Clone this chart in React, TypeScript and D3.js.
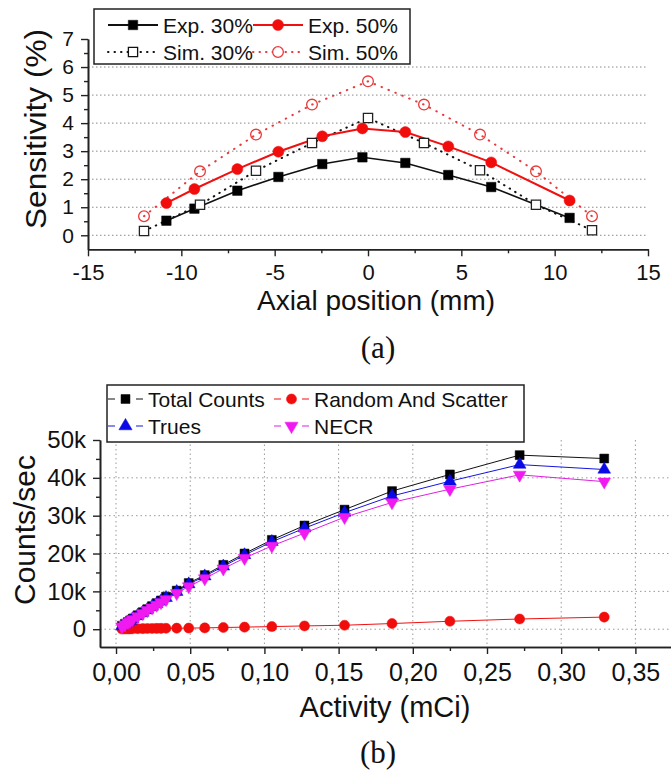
import React, { useEffect, useRef } from "react";
import * as d3 from "d3";

const W = 671;
const H = 773;
const SANS = "'Liberation Sans', Arial, sans-serif";
const SERIF = "'Liberation Serif', 'Times New Roman', serif";

// ---- (a) sensitivity vs axial position ----
const expPos = [-10.8, -9.3, -7.0, -4.8, -2.45, -0.3, 2.0, 4.3, 6.6, 10.8];
const exp30 = [0.52, 0.95, 1.59, 2.08, 2.54, 2.78, 2.58, 2.15, 1.72, 0.62];
const exp50 = [1.15, 1.65, 2.36, 2.98, 3.53, 3.81, 3.68, 3.17, 2.6, 1.24];
const simPos = [-12, -9, -6, -3, 0, 3, 6, 9, 12];
const sim30 = [0.15, 1.09, 2.3, 3.29, 4.18, 3.29, 2.32, 1.09, 0.18];
const sim50 = [0.68, 2.28, 3.59, 4.66, 5.49, 4.66, 3.59, 2.28, 0.68];
const xTicksA = [-15, -10, -5, 0, 5, 10, 15];
const yTicksA = [0, 1, 2, 3, 4, 5, 6, 7];
const gridA = [0, 1, 2, 3, 4, 5, 6];

// ---- (b) count rates vs activity ----
const activity = [0.004, 0.006, 0.008, 0.0095, 0.0112, 0.0146, 0.018, 0.0211, 0.0243, 0.0274, 0.0303, 0.0337,
  0.0409, 0.049, 0.0598, 0.0723, 0.0866, 0.105, 0.127, 0.154, 0.186, 0.225, 0.272, 0.329];
const totalCounts = [900, 1400, 1900, 2300, 2800, 3700, 4500, 5300, 6100, 6900, 7600, 8600,
  10200, 12200, 14300, 17000, 20000, 23600, 27400, 31600, 36500, 40900, 46000, 45100];
const randomScatter = [50, 70, 90, 100, 120, 140, 160, 180, 200, 210, 230, 250,
  280, 300, 350, 450, 550, 700, 870, 1050, 1500, 2100, 2700, 3200];
const trues = [800, 1300, 1800, 2200, 2700, 3600, 4400, 5200, 6000, 6700, 7400, 8300,
  9900, 11900, 14000, 16600, 19600, 23100, 26700, 30800, 35200, 39100, 43500, 42200];
const necr = [700, 1200, 1700, 2100, 2600, 3400, 4200, 5000, 5700, 6400, 7100, 7900,
  9500, 11300, 13400, 16000, 18800, 22000, 25400, 29600, 33500, 37000, 40800, 39000];
const xTicksB = [0, 0.05, 0.1, 0.15, 0.2, 0.25, 0.3, 0.35];
const yTicksB = [0, 10000, 20000, 30000, 40000, 50000];
const gridYB = [0, 10000, 20000, 30000, 40000];

type Sel = d3.Selection<SVGGElement, unknown, null, undefined>;

function markers(g: Sel, xs: number[], ys: number[], sx: any, sy: any, type: any, size: number,
  fill: string, stroke: string, sw: number, rot = 0) {
  const sym = d3.symbol().type(type).size(size);
  g.append("g")
    .selectAll("path")
    .data(xs.map((d, i) => [d, ys[i]]))
    .enter()
    .append("path")
    .attr("d", sym as any)
    .attr("transform", d => `translate(${sx(d[0])},${sy(d[1])}) rotate(${rot})`)
    .attr("fill", fill)
    .attr("stroke", stroke)
    .attr("stroke-width", sw);
}

function series(g: Sel, xs: number[], ys: number[], sx: any, sy: any, color: string, width: number, dash?: string) {
  const line = d3.line<number[]>().x(d => sx(d[0])).y(d => sy(d[1]));
  g.append("path")
    .datum(xs.map((d, i) => [d, ys[i]]))
    .attr("d", line)
    .attr("fill", "none")
    .attr("stroke", color)
    .attr("stroke-width", width)
    .attr("stroke-linecap", dash ? "round" : "butt")
    .attr("stroke-dasharray", dash || null);
}

function styleAxis(g: Sel, size: number) {
  g.select(".domain").attr("stroke", "#222").attr("stroke-width", 1.6);
  g.selectAll(".tick line").attr("stroke", "#222").attr("stroke-width", 1.4);
  g.selectAll(".tick text").attr("font-family", SANS).attr("font-size", size).attr("fill", "#111");
}

// minor ticks: lines only, no labels
function minorAxis(g: Sel) {
  g.select(".domain").attr("stroke", "#222").attr("stroke-width", 1.6);
  g.selectAll(".tick line").attr("stroke", "#222").attr("stroke-width", 1.4);
  g.selectAll(".tick text").remove();
}

export default function App() {
  const ref = useRef<SVGSVGElement>(null);

  useEffect(() => {
    const svg = d3.select(ref.current);
    svg.selectAll("*").remove();
    const root = svg.append("g") as unknown as Sel;

    // ================= (a) =================
    const xA = d3.scaleLinear().domain([-15, 15]).range([88, 648]);
    const yA = d3.scaleLinear().domain([-0.5, 7]).range([249.3, 39]);

    const gA = root.append("g");
    gA.append("g").selectAll("line").data(gridA).enter().append("line")
      .attr("x1", xA(-15)).attr("x2", xA(15))
      .attr("y1", d => yA(d)).attr("y2", d => yA(d))
      .attr("stroke", "#8a8a8a").attr("stroke-width", 1).attr("stroke-dasharray", "1.5,2.5");

    const minorXA = d3.range(-12.5, 15, 5);
    const minorYA = d3.range(0.5, 7, 1);
    gA.append("g").attr("transform", `translate(0,${yA(-0.5)})`)
      .call(d3.axisBottom(xA).tickValues(minorXA).tickSize(4).tickSizeOuter(0))
      .call(g => minorAxis(g as any));
    gA.append("g").attr("transform", `translate(${xA(-15)},0)`)
      .call(d3.axisLeft(yA).tickValues(minorYA).tickSize(4).tickSizeOuter(0))
      .call(g => minorAxis(g as any));
    gA.append("g").attr("transform", `translate(0,${yA(-0.5)})`)
      .call(d3.axisBottom(xA).tickValues(xTicksA).tickSize(7).tickPadding(8).tickSizeOuter(0).tickFormat(d => String(d)))
      .call(g => styleAxis(g as any, 22));
    gA.append("g").attr("transform", `translate(${xA(-15)},0)`)
      .call(d3.axisLeft(yA).tickValues(yTicksA).tickSize(7).tickPadding(7).tickSizeOuter(0).tickFormat(d => String(d)))
      .call(g => styleAxis(g as any, 21));

    series(gA as any, simPos, sim30, xA, yA, "#111", 2, "0.5,6");
    series(gA as any, simPos, sim50, xA, yA, "#e8393c", 2, "0.5,7");
    series(gA as any, expPos, exp30, xA, yA, "#111", 1.6);
    series(gA as any, expPos, exp50, xA, yA, "#f01010", 2);
    markers(gA as any, expPos, exp30, xA, yA, d3.symbolSquare, 90, "#000", "#000", 0.5);
    markers(gA as any, expPos, exp50, xA, yA, d3.symbolCircle, 95, "#f20d0d", "#f20d0d", 0.5);
    markers(gA as any, simPos, sim30, xA, yA, d3.symbolSquare, 85, "#fff", "#222", 1.3);
    markers(gA as any, simPos, sim50, xA, yA, d3.symbolCircle, 90, "none", "#e83a3a", 1.3);

    // legend (a)
    const lA = gA.append("g");
    lA.append("rect").attr("x", 94).attr("y", 9).attr("width", 316).attr("height", 55)
      .attr("fill", "#fff").attr("stroke", "#222").attr("stroke-width", 1.5);
    const legA = [
      { label: "Exp. 30%", x: 108, y: 25, color: "#111", dash: null, sym: d3.symbolSquare, size: 90, fill: "#000" },
      { label: "Exp. 50%", x: 253, y: 25, color: "#f01010", dash: null, sym: d3.symbolCircle, size: 95, fill: "#f20d0d" },
      { label: "Sim. 30%", x: 108, y: 52, color: "#111", dash: "0.5,6", sym: d3.symbolSquare, size: 85, fill: "#fff" },
      { label: "Sim. 50%", x: 253, y: 52, color: "#e8393c", dash: "0.5,6", sym: d3.symbolCircle, size: 90, fill: "#fff" }
    ];
    legA.forEach(d => {
      lA.append("line").attr("x1", d.x).attr("x2", d.x + 50).attr("y1", d.y).attr("y2", d.y)
        .attr("stroke", d.color).attr("stroke-width", 2)
        .attr("stroke-linecap", d.dash ? "round" : "butt")
        .attr("stroke-dasharray", d.dash);
      lA.append("path").attr("d", d3.symbol().type(d.sym).size(d.size) as any)
        .attr("transform", `translate(${d.x + 25},${d.y})`)
        .attr("fill", d.fill).attr("stroke", d.color).attr("stroke-width", d.fill === "#fff" ? 1.3 : 0.5);
      lA.append("text").attr("x", d.x + 55).attr("y", d.y).attr("dy", "0.36em")
        .attr("font-family", SANS).attr("font-size", 21).attr("fill", "#111").text(d.label);
    });

    gA.append("text").attr("x", 376).attr("y", 300).attr("dy", "0.36em").attr("text-anchor", "middle")
      .attr("font-family", SANS).attr("font-size", 28).attr("fill", "#111").text("Axial position (mm)");
    gA.append("text").attr("transform", "translate(36,129) rotate(-90)").attr("dy", "0.36em")
      .attr("text-anchor", "middle").attr("font-family", SANS).attr("font-size", 29)
      .attr("textLength", 200).attr("lengthAdjust", "spacingAndGlyphs")
      .attr("fill", "#111").text("Sensitivity (%)");
    gA.append("text").attr("x", 378).attr("y", 347).attr("dy", "0.34em").attr("text-anchor", "middle")
      .attr("font-family", SERIF).attr("font-size", 31).attr("fill", "#111").text("(a)");

    // ================= (b) =================
    const xB = d3.scaleLinear().domain([-0.0108, 0.374]).range([100, 671]);
    const yB = d3.scaleLinear().domain([-4700, 50000]).range([647, 440]);
    const gB = root.append("g");

    gB.append("g").selectAll("line").data(gridYB).enter().append("line")
      .attr("x1", xB(-0.0108)).attr("x2", W)
      .attr("y1", d => yB(d)).attr("y2", d => yB(d))
      .attr("stroke", "#9a9a9a").attr("stroke-width", 1).attr("stroke-dasharray", "1.5,3");
    gB.append("g").selectAll("line").data(xTicksB).enter().append("line")
      .attr("x1", d => xB(d)).attr("x2", d => xB(d))
      .attr("y1", yB(50000)).attr("y2", yB(-4700))
      .attr("stroke", "#9a9a9a").attr("stroke-width", 1).attr("stroke-dasharray", "1.5,3");

    const minorXB = d3.range(0.025, 0.37, 0.05);
    const minorYB = d3.range(5000, 50000, 10000);
    gB.append("g").attr("transform", `translate(0,${yB(-4700)})`)
      .call(d3.axisBottom(xB).tickValues(minorXB).tickSize(4).tickSizeOuter(0))
      .call(g => minorAxis(g as any));
    gB.append("g").attr("transform", `translate(${xB(-0.0108)},0)`)
      .call(d3.axisLeft(yB).tickValues(minorYB).tickSize(4).tickSizeOuter(0))
      .call(g => minorAxis(g as any));
    gB.append("g").attr("transform", `translate(0,${yB(-4700)})`)
      .call(d3.axisBottom(xB).tickValues(xTicksB).tickSize(7).tickPadding(9).tickSizeOuter(0)
        .tickFormat(d => d3.format(".2f")(d as number).replace(".", ",")))
      .call(g => styleAxis(g as any, 25));
    gB.append("g").attr("transform", `translate(${xB(-0.0108)},0)`)
      .call(d3.axisLeft(yB).tickValues(yTicksB).tickSize(7).tickPadding(7).tickSizeOuter(0)
        .tickFormat(d => (d === 0 ? "0" : (d as number) / 1000 + "k")))
      .call(g => styleAxis(g as any, 24));

    series(gB as any, activity, totalCounts, xB, yB, "#111", 1);
    series(gB as any, activity, randomScatter, xB, yB, "#f01010", 1);
    series(gB as any, activity, trues, xB, yB, "#1515e0", 1);
    series(gB as any, activity, necr, xB, yB, "#e020e0", 1);
    markers(gB as any, activity, totalCounts, xB, yB, d3.symbolSquare, 80, "#000", "#000", 0.5);
    markers(gB as any, activity, randomScatter, xB, yB, d3.symbolCircle, 80, "#f20d0d", "#f20d0d", 0.5);
    markers(gB as any, activity, trues, xB, yB, d3.symbolTriangle, 70, "#0a0ae6", "#0a0ae6", 0.5);
    markers(gB as any, activity, necr, xB, yB, d3.symbolTriangle, 70, "#f01af0", "#f01af0", 0.5, 180);

    // legend (b)
    const lB = gB.append("g");
    lB.append("rect").attr("x", 107).attr("y", 385).attr("width", 417).attr("height", 57)
      .attr("fill", "#fff").attr("stroke", "#222").attr("stroke-width", 1.5);
    const legB = [
      { label: "Total Counts", x: 108, y: 399, color: "#111", sym: d3.symbolSquare, fill: "#000", rot: 0, size: 80 },
      { label: "Random And Scatter", x: 274, y: 399, color: "#f01010", sym: d3.symbolCircle, fill: "#f20d0d", rot: 0, size: 80 },
      { label: "Trues", x: 108, y: 426, color: "#1515e0", sym: d3.symbolTriangle, fill: "#0a0ae6", rot: 0, size: 75 },
      { label: "NECR", x: 274, y: 426, color: "#e020e0", sym: d3.symbolTriangle, fill: "#f01af0", rot: 180, size: 75 }
    ];
    legB.forEach(d => {
      lB.append("line").attr("x1", d.x).attr("x2", d.x + 35).attr("y1", d.y).attr("y2", d.y)
        .attr("stroke", d.color).attr("stroke-width", 1.2).attr("stroke-dasharray", "7,21");
      lB.append("path").attr("d", d3.symbol().type(d.sym).size(d.size) as any)
        .attr("transform", `translate(${d.x + 17.5},${d.y}) rotate(${d.rot})`)
        .attr("fill", d.fill).attr("stroke", d.fill).attr("stroke-width", 0.5);
      lB.append("text").attr("x", d.x + 40).attr("y", d.y).attr("dy", "0.36em")
        .attr("font-family", SANS).attr("font-size", 21).attr("fill", "#111").text(d.label);
    });

    gB.append("text").attr("x", 385).attr("y", 707).attr("dy", "0.36em").attr("text-anchor", "middle")
      .attr("font-family", SANS).attr("font-size", 29).attr("fill", "#111").text("Activity (mCi)");
    gB.append("text").attr("transform", "translate(24,530) rotate(-90)").attr("dy", "0.36em")
      .attr("text-anchor", "middle").attr("font-family", SANS).attr("font-size", 30)
      .attr("fill", "#111").text("Counts/sec");
    gB.append("text").attr("x", 378).attr("y", 752).attr("dy", "0.34em").attr("text-anchor", "middle")
      .attr("font-family", SERIF).attr("font-size", 31).attr("fill", "#111").text("(b)");
  }, []);

  return (
    <svg ref={ref} width={W} height={H} viewBox={`0 0 ${W} ${H}`}
      style={{ position: "absolute", left: 0, top: 0, background: "#fff" }} />
  );
}
